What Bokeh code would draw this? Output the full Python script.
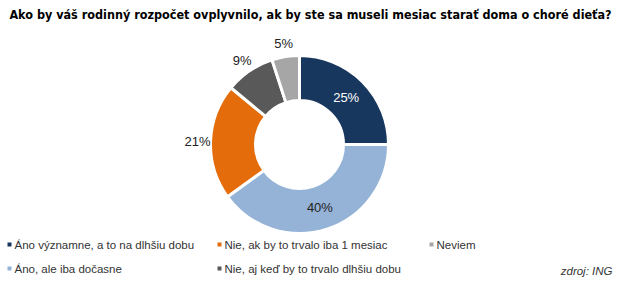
import math
from bokeh.plotting import figure
from bokeh.models import Range1d, ColumnDataSource
from bokeh.core.properties import value
from bokeh.embed import file_html
from bokeh.resources import INLINE

title = "Ako by váš rodinný rozpočet ovplyvnilo, ak by ste sa museli mesiac starať doma o choré dieťa?"
categories = [
    "Áno významne, a to na dlhšiu dobu",
    "Áno, ale iba dočasne",
    "Nie, ak by to trvalo iba 1 mesiac",
    "Nie, aj keď by to trvalo dlhšiu dobu",
    "Neviem",
]
values = [25, 40, 21, 9, 5]
colors = ["#17375E", "#95B3D7", "#E46C0A", "#595959", "#A6A6A6"]
label_colors = ["white", "#222222", "#222222", "#222222", "#222222"]
label_outside = [False, False, True, True, True]
source_note = "zdroj: ING"

W, H = 620, 284
p = figure(width=W, height=H, output_backend="svg", toolbar_location=None,
           x_range=Range1d(0, W), y_range=Range1d(0, H), min_border=0)
p.axis.visible = False
p.grid.visible = False
p.outline_line_color = None
p.background_fill_color = "white"
p.border_fill_color = "white"

cx, cy = 299, H - 144
r_in, r_out = 44, 89

total = float(sum(values))
starts, ends, lx, ly = [], [], [], []
cum = 0.0
for v, out in zip(values, label_outside):
    a_begin = math.pi / 2 - 2 * math.pi * cum / total
    cum += v
    a_end = math.pi / 2 - 2 * math.pi * cum / total
    starts.append(a_end)
    ends.append(a_begin)
    mid = (a_begin + a_end) / 2
    rr = 102 if out else 66
    lx.append(cx + rr * math.cos(mid))
    ly.append(cy + rr * math.sin(mid))

src = ColumnDataSource(dict(start=starts, end=ends, color=colors,
                            lx=lx, ly=ly, txt=[f"{v}%" for v in values],
                            tc=label_colors))
p.annular_wedge(x=cx, y=cy, inner_radius=r_in, outer_radius=r_out,
                start_angle="start", end_angle="end", fill_color="color",
                line_color="white", line_width=3, source=src)
p.text(x="lx", y="ly", text="txt", text_color="tc", source=src,
       text_font=value("Liberation Sans"), text_font_size="13px",
       text_align="center", text_baseline="middle")

# title
p.text(x=[W / 2], y=[H - 14], text=[title], text_font=value("DejaVu Sans Condensed"),
       text_font_style="bold", text_font_size="12.5px", text_color="black",
       text_align="center", text_baseline="middle")

# legend (column-major, 2 rows)
col_x = [8, 218, 430]
row_y = [H - 244, H - 268]
mx, my, tx, ty = [], [], [], []
for i in range(len(categories)):
    c, r = divmod(i, 2)
    mx.append(col_x[c] + 1)
    my.append(row_y[r])
    tx.append(col_x[c] + 6)
    ty.append(row_y[r])
p.scatter(x=mx, y=my, marker="square", size=4, fill_color=colors, line_color=None)
p.text(x=tx, y=ty, text=categories, text_font=value("Liberation Sans"),
       text_font_size="11.5px", text_color="#333333", text_baseline="middle")

p.text(x=[612], y=[H - 270], text=[source_note], text_font=value("Liberation Sans"),
       text_font_style="italic", text_font_size="11.5px", text_color="#333333",
       text_align="right", text_baseline="middle")

open("out.html", "w").write(file_html(p, INLINE))
